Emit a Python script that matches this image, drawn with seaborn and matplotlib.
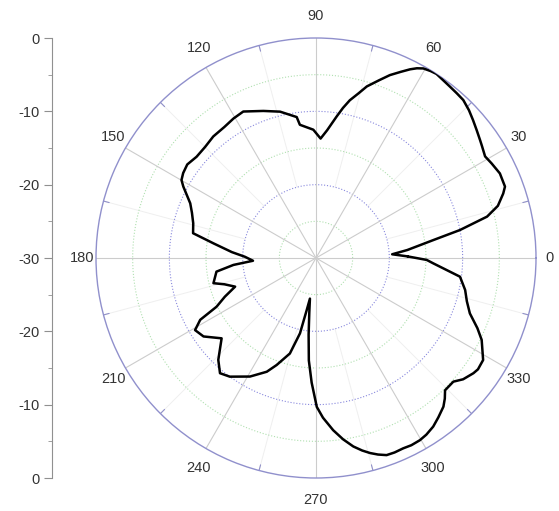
import numpy as np
import pandas as pd
import matplotlib
matplotlib.use("Agg")
import matplotlib.pyplot as plt
import seaborn as sns

# traced pattern: angle (deg) and gain (dB)
angles_deg = [1, 2.8, 5, 8.7, 11, 13.6, 16, 19, 20.7, 24.7, 28.3, 31, 34, 35.7, 38.5, 41.3,
              44, 47, 49.5, 52, 56.8, 58.5, 60.5, 62, 63.5, 65.5, 68, 70.5, 73.5, 75.5,
              77.9, 79.8, 81.7, 85, 87.8, 91.2, 96.9, 97.8, 103.8,
              109.7, 116.4, 120.6, 125, 130.2, 135, 139.7, 144, 147.4, 149.9, 151.7,
              156.5, 160, 164.2, 168.6, 171.9, 176, 179, 182.5, 184.8, 187.8, 193.8, 196,
              199.5, 203, 206.1, 208.1, 210.8, 214.9, 220.4, 226.2, 230.2, 234, 240.9,
              246.6, 249.8, 254.7, 258, 259.9, 261.5, 263, 264.5, 266, 268, 270.3, 272.5,
              275.7, 278.5, 281.2, 283.5, 285.5, 287.5, 289.7, 292, 294.6, 297, 299.7,
              302, 304.8, 307.5, 310.6, 312.5, 314.3, 318, 320.5, 323.8, 325.5, 328.6,
              333.7, 336.5, 340.2, 344, 347.9, 352.6, 357.4, 359, 361]
gain_db = [-17.5, -19.6, -17.5, -13.8, -10, -6.0, -4.2, -3.0, -2.45, -2.4, -2.8, -3.1, -2.7,
           -2.45, -2.0, -1.5, -1.0, -0.55, -0.45, -0.34, 0, -0.1, -0.3, -0.7, -1.25, -2.1,
           -3.1, -4.3, -5.6, -6.8, -8.0, -9.2, -10.5, -12.5, -13.7, -12.5,
           -11.7, -10.6, -9.45, -8.7, -7.7, -7.9, -8.2, -8.3, -8.6, -8.65, -8.3, -8.5, -8.8,
           -9.45, -11.3, -12.0, -12.6, -12.9, -15.9, -18.5, -20.3, -21.4, -18.7, -16.3,
           -15.6, -17.0, -18.3, -16.5, -14.9, -12.1, -10.8, -11.3, -13.1, -10.75, -9.55,
           -10.0, -11.5, -13.1, -14.45, -16.5, -19.5, -22.8, -24.4, -22.5, -19.5, -16,
           -13, -9.7, -8.2, -6.4, -5.0, -3.8, -3.0, -2.4, -1.9, -1.45, -1.4, -1.45, -1.35,
           -1.4, -1.6, -2.0, -2.6, -3.3, -4.0, -4.8, -4.8, -4.0, -3.4, -3.2, -3.3,
           -4.8, -6.0, -7.7, -8.6, -9.2, -10.2, -14, -14.9, -17.5]

angle_ticks = list(range(0, 360, 30))
left_ticks = [-30, -20, -10, 0, 10, 20, 30]

df = pd.DataFrame({"theta": np.radians(angles_deg), "gain": gain_db})

sns.set_style("white")
plt.rcParams["font.family"] = ["Liberation Sans", "DejaVu Sans"]

W, H = 559, 511
fig = plt.figure(figsize=(W / 100, H / 100), dpi=100)
cx, cy, R = 316, 258, 220
ax = fig.add_axes([(cx - R) / W, (H - cy - R) / H, 2 * R / W, 2 * R / H], projection="polar")
ax.set_ylim(-30, 0)
ax.set_yticks([])
ax.set_xticks([])
ax.grid(False)

full = np.linspace(0, 2 * np.pi, 400)
for r in [-25, -15, -5]:
    ax.plot(full, np.full_like(full, r), color="#b0e0b0", lw=0.8, ls=":", zorder=1)
for r in [-20, -10]:
    ax.plot(full, np.full_like(full, r), color="#8888dd", lw=0.8, ls=":", zorder=1)

# spokes
for a in angle_ticks:
    t = np.radians(a)
    ax.plot([t, t], [-30, 0], color="#cccccc", lw=0.8, zorder=1)
for a in range(15, 360, 30):
    t = np.radians(a)
    ax.plot([t, t], [-20, 0], color="#efefef", lw=0.7, zorder=0.5)
    ax.plot([t, t], [-0.8, 0], color="#9090c8", lw=0.8, zorder=1)

ax.spines["polar"].set_color("#9090cc")
ax.spines["polar"].set_linewidth(1.0)

# angle labels just outside the ring
for a in angle_ticks:
    t = np.radians(a)
    px = cx + (R + 14) * np.cos(t)
    py = cy - (R + 22) * np.sin(t)
    fig.text(px / W, 1 - py / H, str(a), ha="center", va="center",
             fontsize=10.5, color="#333333")

sns.lineplot(data=df, x="theta", y="gain", sort=False, color="black", lw=1.8,
             estimator=None, ax=ax, zorder=3)
ax.set_xlabel("")
ax.set_ylabel("")

# left scale
ax2 = fig.add_axes([52 / W, (H - cy - R) / H, 0.0001, 2 * R / H])
ax2.set_ylim(-30, 30)
ax2.set_yticks(left_ticks)
ax2.set_yticklabels([str(abs(v) - 30) for v in left_ticks])
ax2.set_yticks(range(-25, 30, 10), minor=True)
ax2.set_xticks([])
for s in ["top", "right", "bottom"]:
    ax2.spines[s].set_visible(False)
ax2.spines["left"].set_color("#909090")
ax2.tick_params(axis="y", which="major", length=6, color="#909090", labelsize=10.5,
                labelcolor="#333333", left=True, pad=3)
ax2.tick_params(axis="y", which="minor", length=3, color="#909090", left=True)
ax2.patch.set_visible(False)

fig.savefig("out.png", dpi=100)
